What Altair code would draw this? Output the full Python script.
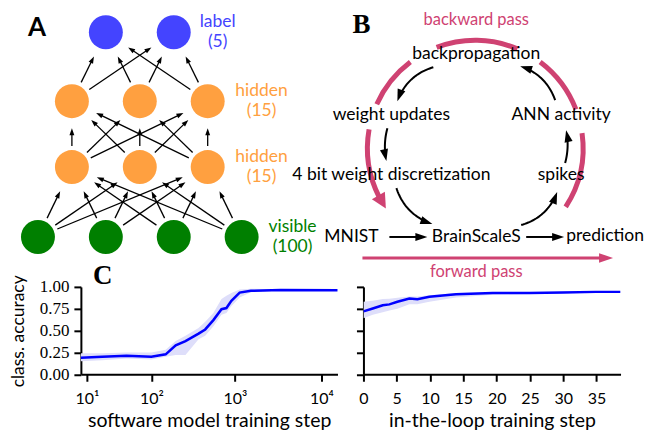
import altair as alt
import pandas as pd
import numpy as np

# ---------------- Panel C data ----------------
sw_step = [7, 20, 47, 100, 151, 200, 262, 375, 449, 560, 697, 796, 909, 1134, 1530, 3380, 15300]
sw_acc = [0.19, 0.20, 0.212, 0.20, 0.228, 0.33, 0.38, 0.465, 0.513, 0.62, 0.745, 0.758, 0.84, 0.935, 0.955, 0.965, 0.962]
sw_lo = [0.15, 0.16, 0.18, 0.17, 0.20, 0.22, 0.22, 0.40, 0.44, 0.55, 0.68, 0.70, 0.78, 0.88, 0.94, 0.96, 0.96]
sw_hi = [0.24, 0.24, 0.25, 0.25, 0.28, 0.38, 0.44, 0.53, 0.60, 0.70, 0.86, 0.90, 0.93, 0.97, 0.98, 0.97, 0.965]

itl_step = [0, 1.4, 2.9, 3.9, 5.1, 6.9, 8.1, 9.9, 13.9, 19.4, 24.9, 29.9, 34.9, 38.6]
itl_acc = [0.72, 0.753, 0.79, 0.80, 0.83, 0.868, 0.86, 0.886, 0.917, 0.93, 0.93, 0.936, 0.943, 0.943]
itl_lo = [0.64, 0.68, 0.71, 0.73, 0.75, 0.80, 0.80, 0.83, 0.88, 0.91, 0.92, 0.925, 0.935, 0.935]
itl_hi = [0.83, 0.84, 0.86, 0.865, 0.875, 0.89, 0.89, 0.905, 0.93, 0.94, 0.94, 0.945, 0.95, 0.95]

sw_ticks = [10, 100, 1000, 10000]
itl_ticks = [0, 5, 10, 15, 20, 25, 30, 35]
acc_ticks = [0, 0.25, 0.5, 0.75, 1.0]

# ---------------- Panel A (network diagram) ----------------
layer_x = [[38, 106, 174, 242], [72, 140, 208], [72, 140, 208], [106, 174]]
layer_y = [237, 167, 101, 32]
layer_color = ["#007f00", "#ffa040", "#ffa040", "#4444ff"]
layer_text1 = ["visible", "hidden", "hidden", "label"]
layer_text2 = ["(100)", "(15)", "(15)", "(5)"]
layer_text_x = [293, 262, 262, 218]

# ---------------- Panel B (training loop) ----------------
b_text = ["backpropagation", "weight updates", "ANN activity", "4 bit weight discretization",
          "spikes", "MNIST", "BrainScaleS", "prediction"]
b_text_x = [477, 392, 562, 392, 562, 352, 477, 606]
b_text_y = [54, 115, 115, 175, 175, 237, 237, 236]
b_arrow_from = [(434, 67), (556, 100), (388, 128), (566, 163), (397, 188), (522, 225), (390, 237), (527, 237)]
b_arrow_to = [(398, 101), (521, 66), (387, 161), (567, 130), (433, 224), (558, 192), (428, 237), (565, 237)]
b_arrow_bend = [0.25, 0.25, 0.12, 0.12, 0.25, 0.25, 0.0, 0.0]
loop_center = (476, 148)
loop_segments_deg = [(-33, 8), (21, 53), (67, 111), (127, 156), (170, 207)]
loop_tip_deg = 214
pass_labels = ["backward pass", "forward pass"]
pass_x = [477, 477]
pass_y = [20, 272]
fwd_from = (363, 258)
fwd_to = (614, 258)

letters = ["A", "B", "C"]
letter_x = [37, 362, 103]
letter_y = [28, 25, 276]

PINK = "#cf4272"
BLUE = "#0000ff"
SANS = "Lato"
SERIF = "Liberation Serif"
FS = 17.5

X0, X1 = 81, 644
Y0, Y1 = 8, 277
W1, H1 = X1 - X0, Y1 - Y0

xs = alt.Scale(domain=[X0, X1], nice=False, zero=False)
ys = alt.Scale(domain=[Y0, Y1], nice=False, zero=False, reverse=True)


def arrow_geom(x0, y0, x1, y1, sa, sb, head):
    dx, dy = x1 - x0, y1 - y0
    L = np.hypot(dx, dy)
    ux, uy = dx / L, dy / L
    sx, sy = x0 + ux * sa, y0 + uy * sa
    tx, ty = x1 - ux * sb, y1 - uy * sb
    ex, ey = tx - ux * head * 0.8, ty - uy * head * 0.8
    ang = float(np.degrees(np.arctan2(ux, -uy)) % 360)
    return sx, sy, ex, ey, tx, ty, ang


# A arrows
a_lines, a_heads = [], []
for li in range(3):
    for xa in layer_x[li]:
        for xb in layer_x[li + 1]:
            sx, sy, ex, ey, tx, ty, ang = arrow_geom(xa, layer_y[li], xb, layer_y[li + 1], 21, 27, 7)
            a_lines.append(dict(x=sx, y=sy, x2=ex, y2=ey))
            a_heads.append(dict(x=tx, y=ty, ang=ang))
a_lines = pd.DataFrame(a_lines)
a_heads = pd.DataFrame(a_heads)

nodes = pd.DataFrame([dict(x=x, y=layer_y[i], c=layer_color[i])
                      for i in range(4) for x in layer_x[i]])
node_labels = pd.DataFrame(
    [dict(x=layer_text_x[i], y=layer_y[i] - 10, t=layer_text1[i], c=layer_color[i]) for i in range(4)] +
    [dict(x=layer_text_x[i], y=layer_y[i] + 10, t=layer_text2[i], c=layer_color[i]) for i in range(4)])

# B curved arrows
b_pts, b_heads = [], []
cx, cy = loop_center
HB = 12
for k, ((x0, y0), (x1, y1)) in enumerate(zip(b_arrow_from, b_arrow_to)):
    p0 = np.array([x0, y0], float)
    p1 = np.array([x1, y1], float)
    m = (p0 + p1) / 2
    d = p1 - p0
    L = np.hypot(*d)
    n = np.array([-d[1], d[0]]) / L
    if (m[0] - cx) * n[0] + (m[1] - cy) * n[1] < 0:
        n = -n
    c = m + n * b_arrow_bend[k] * L
    tan = p1 - c
    tan = tan / np.hypot(*tan)
    t_end = 1 - 0.8 * HB / L
    for i, t in enumerate(np.linspace(0, t_end, 24)):
        p = (1 - t) ** 2 * p0 + 2 * (1 - t) * t * c + t ** 2 * p1
        b_pts.append(dict(id=k, i=i, x=p[0], y=p[1]))
    b_heads.append(dict(x=x1, y=y1, ang=float(np.degrees(np.arctan2(tan[0], -tan[1])) % 360)))
b_pts = pd.DataFrame(b_pts)
b_heads = pd.DataFrame(b_heads)

# loop arcs (vega angles: clockwise from 12 o'clock, radians)
arcs = pd.DataFrame([dict(x=cx, y=cy, t1=np.radians(90 - e), t2=np.radians(90 - s))
                     for s, e in loop_segments_deg])
R = 108
tip_r = np.radians(loop_tip_deg)
base_r = np.radians(loop_tip_deg - 8)
tip = (cx + R * np.cos(tip_r), cy - R * np.sin(tip_r))
base = (cx + R * np.cos(base_r), cy - R * np.sin(base_r))
dv = np.array(tip) - np.array(base)
loop_head = pd.DataFrame([dict(x=tip[0], y=tip[1],
                               ang=float(np.degrees(np.arctan2(dv[0], -dv[1])) % 360))])

fsx, fsy, fex, fey, ftx, fty, fang = arrow_geom(fwd_from[0], fwd_from[1], fwd_to[0], fwd_to[1], 0, 0, 14)
fwd_line = pd.DataFrame([dict(x=fsx, y=fsy, x2=fex, y2=fey)])
fwd_head = pd.DataFrame([dict(x=ftx, y=fty, ang=fang)])

texts_b = pd.DataFrame(dict(x=b_text_x, y=b_text_y, t=b_text))
passes = pd.DataFrame(dict(x=pass_x, y=pass_y, t=pass_labels))
lets = pd.DataFrame(dict(x=letter_x, y=letter_y, t=letters))
anchor = pd.DataFrame(dict(x=[8.5], y=[8.5]))


def X(f="x"):
    return alt.X(f"{f}:Q", scale=xs, axis=None)


def Y(f="y"):
    return alt.Y(f"{f}:Q", scale=ys, axis=None)


HEAD_A = "M0,0L-0.35,1L0.35,1Z"
HEAD_B = "M0,0L-0.34,1L0.34,1Z"
HEAD_L = "M0,0L-0.5,1L0.5,1Z"

layers = [
    alt.Chart(anchor).mark_point(size=1, opacity=0).encode(x=X(), y=Y()),
    alt.Chart(a_lines).mark_rule(color="black", strokeWidth=1.3).encode(
        x=X(), y=Y(), x2="x2:Q", y2="y2:Q"),
    alt.Chart(a_heads).mark_point(shape=HEAD_A, size=196, filled=True, color="black",
                                  strokeWidth=0, opacity=1).encode(
        x=X(), y=Y(), angle=alt.Angle("ang:Q", scale=None)),
    alt.Chart(nodes).mark_circle(size=1156, opacity=1).encode(
        x=X(), y=Y(), color=alt.Color("c:N", scale=None)),
    alt.Chart(node_labels).mark_text(font=SANS, fontSize=FS).encode(
        x=X(), y=Y(), text="t:N", color=alt.Color("c:N", scale=None)),
    alt.Chart(arcs).mark_arc(radius=110.5, radius2=105.5, color=PINK).encode(
        x=X(), y=Y(), theta=alt.Theta("t1:Q", scale=None), theta2="t2:Q"),
    alt.Chart(loop_head).mark_point(shape=HEAD_L, size=900, filled=True, color=PINK,
                                    strokeWidth=0, opacity=1).encode(
        x=X(), y=Y(), angle=alt.Angle("ang:Q", scale=None)),
    alt.Chart(fwd_line).mark_rule(color=PINK, strokeWidth=3).encode(
        x=X(), y=Y(), x2="x2:Q", y2="y2:Q"),
    alt.Chart(fwd_head).mark_point(shape=HEAD_B, size=784, filled=True, color=PINK,
                                   strokeWidth=0, opacity=1).encode(
        x=X(), y=Y(), angle=alt.Angle("ang:Q", scale=None)),
    alt.Chart(b_pts).mark_line(color="black", strokeWidth=2).encode(
        x=X(), y=Y(), detail="id:N", order="i:Q"),
    alt.Chart(b_heads).mark_point(shape=HEAD_B, size=576, filled=True, color="black",
                                  strokeWidth=0, opacity=1).encode(
        x=X(), y=Y(), angle=alt.Angle("ang:Q", scale=None)),
    alt.Chart(texts_b).mark_text(font=SANS, fontSize=FS, color="black").encode(
        x=X(), y=Y(), text="t:N"),
    alt.Chart(passes).mark_text(font=SANS, fontSize=16.5, color=PINK).encode(
        x=X(), y=Y(), text="t:N"),
    alt.Chart(lets[lets.t == "A"]).mark_text(font=SANS, fontSize=26, fontWeight="bold",
                                             color="black").encode(x=X(), y=Y(), text="t:N"),
    alt.Chart(lets[lets.t != "A"]).mark_text(font=SERIF, fontSize=27, fontWeight="bold",
                                             color="black").encode(x=X(), y=Y(), text="t:N"),
]
top = alt.layer(*layers).properties(width=W1, height=H1)

# ---------------- Panel C charts ----------------
sw = pd.DataFrame(dict(step=sw_step, acc=sw_acc, lo=sw_lo, hi=sw_hi))
itl = pd.DataFrame(dict(step=itl_step, acc=itl_acc, lo=itl_lo, hi=itl_hi))

yscale = alt.Scale(domain=[0, 1], nice=False, zero=False)

left_x = alt.X("step:Q", scale=alt.Scale(type="symlog", constant=10, domain=[7, 15300], nice=False),
               axis=alt.Axis(values=sw_ticks,
                             labelExpr="datum.value == 10 ? '10¹' : datum.value == 100 ? '10²' : datum.value == 1000 ? '10³' : '10⁴'",
                             title="software model training step"))
left_axis_y = alt.Axis(values=acc_ticks, format=".2f", title="class. accuracy",
                       labelFont=SERIF, labelFontSize=17, labelPadding=5,
                       titleX=-53, titleY=44, titleFontSize=17.5)
left = alt.layer(
    alt.Chart(sw).mark_area(color="#dedefa", opacity=1).encode(
        x=left_x, y=alt.Y("lo:Q", scale=yscale, axis=left_axis_y), y2="hi:Q"),
    alt.Chart(sw).mark_line(color=BLUE, strokeWidth=2.5).encode(
        x=left_x, y=alt.Y("acc:Q", scale=yscale, axis=left_axis_y)),
).properties(width=257, height=87.5)

right_x = alt.X("step:Q", scale=alt.Scale(domain=[0, 38.6], nice=False, zero=False),
                axis=alt.Axis(values=itl_ticks, title="in-the-loop training step"))
right_axis_y = alt.Axis(values=acc_ticks, labels=False, title=None)
right = alt.layer(
    alt.Chart(itl).mark_area(color="#dedefa", opacity=1, clip=True).encode(
        x=right_x, y=alt.Y("lo:Q", scale=yscale, axis=right_axis_y), y2="hi:Q"),
    alt.Chart(itl).mark_line(color=BLUE, strokeWidth=2.5, clip=True).encode(
        x=right_x, y=alt.Y("acc:Q", scale=yscale, axis=right_axis_y)),
).properties(width=257.5, height=87.5)

bottom = alt.hconcat(left, right, spacing=26, bounds="flush")

chart = alt.vconcat(top, bottom, spacing=10, bounds="flush").properties(padding=0).configure_view(
    stroke=None
).configure_axis(
    grid=False, domainColor="black", domainWidth=2, tickColor="black", tickWidth=2, tickSize=7,
    labelColor="black", labelFont=SANS, labelFontSize=16, labelPadding=9, titleColor="black",
    titleFont=SANS, titleFontSize=19.5, titleFontWeight="normal", titlePadding=5,
    labelFlush=False, labelOverlap=False
)

chart.save("out.html", embed_options={"renderer": "svg", "actions": False})
